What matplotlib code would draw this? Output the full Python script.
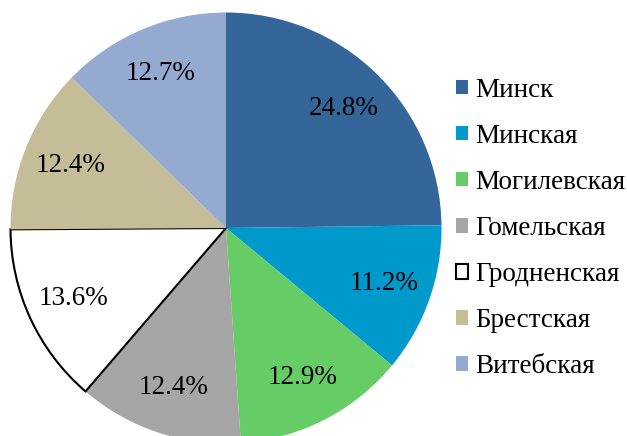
import matplotlib
matplotlib.use("Agg")
import matplotlib.pyplot as plt

regions = ["Минск", "Минская", "Могилевская", "Гомельская", "Гродненская", "Брестская", "Витебская"]
shares = [24.8, 11.2, 12.9, 12.4, 13.6, 12.4, 12.7]
colors = ["#346699", "#0099cc", "#66cc66", "#a6a6a6", "#ffffff", "#c4bd97", "#95aad0"]

plt.rcParams["font.family"] = ["Liberation Serif", "DejaVu Serif"]

fig = plt.figure(figsize=(6.27, 4.36), dpi=100)
# pie centre at (226, 228) px, radius ~215.5 px
ax = fig.add_axes([10.5 / 627, -7.5 / 436, 431 / 627, 431 / 436])
wedges, texts, autotexts = ax.pie(
    shares, colors=colors, startangle=90, counterclock=False, radius=1,
    autopct="%.1f%%", pctdistance=0.78,
    wedgeprops=dict(linewidth=0, edgecolor="none"),
    textprops=dict(fontsize=19.5, color="black"),
)
wedges[4].set_edgecolor("black")
wedges[4].set_linewidth(1.5)
ax.set_xlim(-1, 1)
ax.set_ylim(-1, 1)
ax.set_aspect("equal")
ax.axis("off")

fig.legend(wedges, regions, loc="center left", bbox_to_anchor=(456 / 627, 0.476),
           frameon=False, fontsize=19.5, handlelength=0.45, handleheight=0.45,
           handletextpad=0.28, labelspacing=0.78, borderpad=0, borderaxespad=0)

fig.savefig("out.png", dpi=100)
